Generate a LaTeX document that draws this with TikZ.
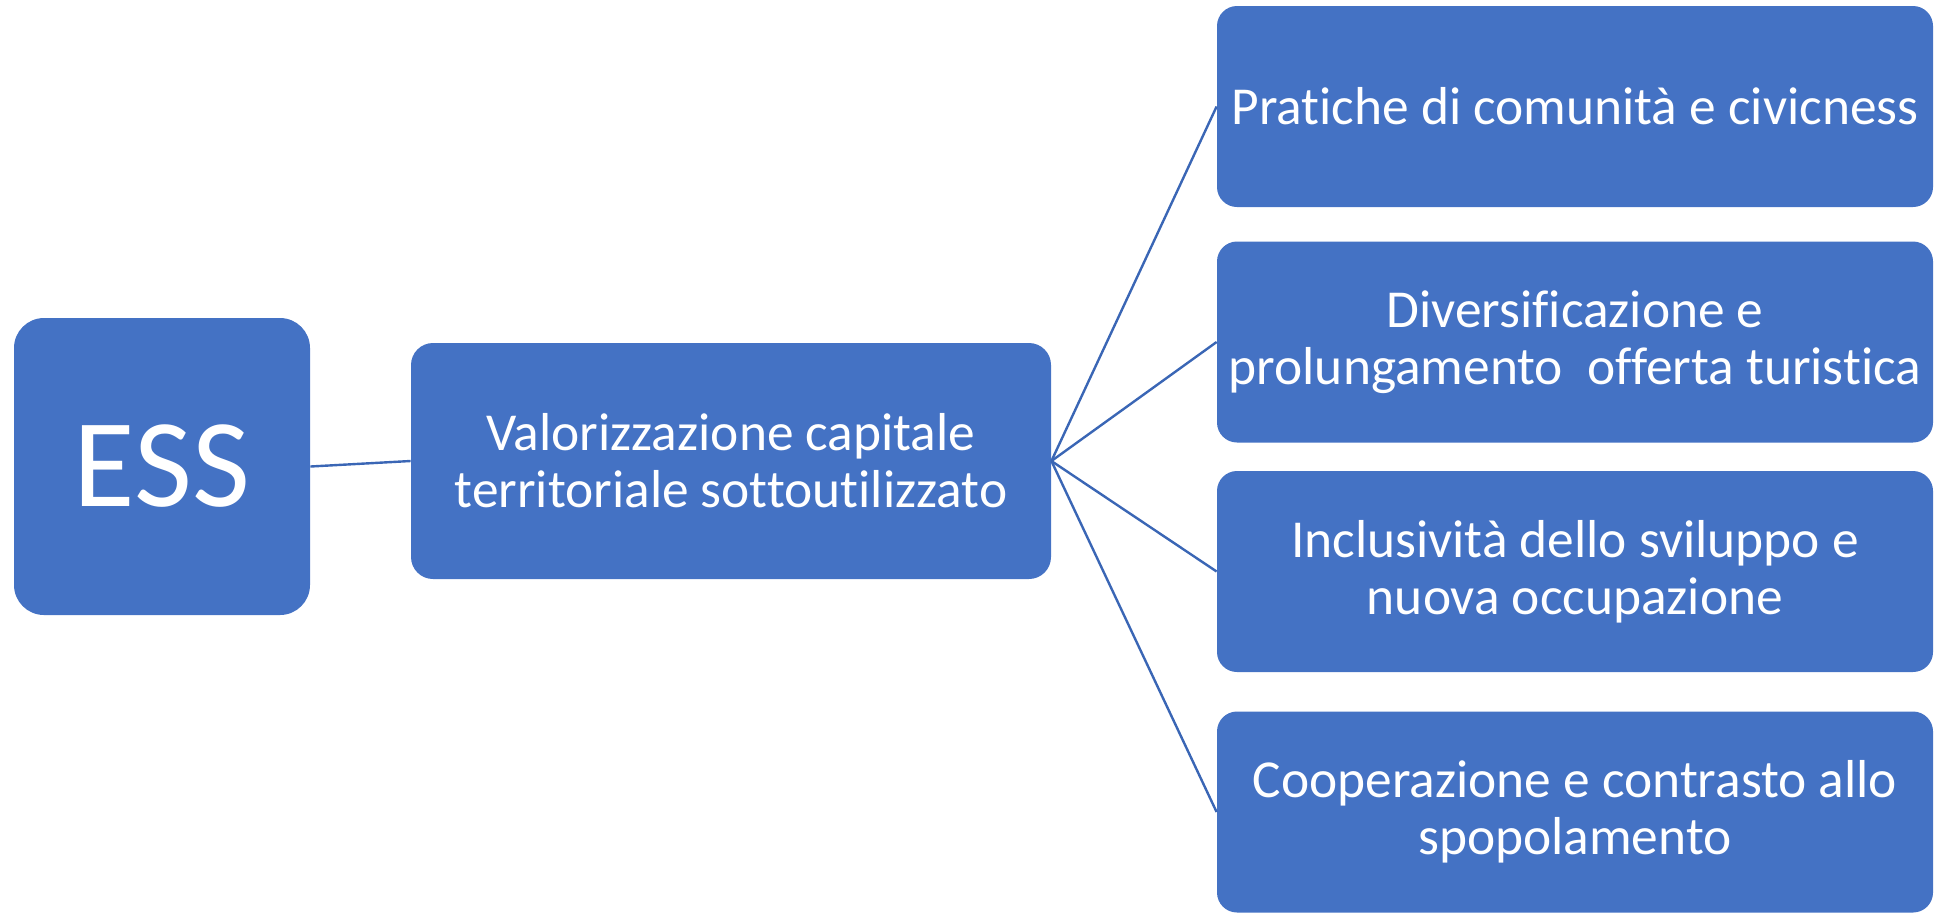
\documentclass[tikz,border=0pt]{standalone}
\usepackage{fontspec}
\setmainfont{Carlito}[Ligatures=NoCommon]
\usepackage{xcolor}
\definecolor{boxblue}{HTML}{4472C4}
\definecolor{lineblue}{HTML}{3A66B5}
\tikzset{
  block/.style    = {shape=rectangle, rounded corners=11pt,
                     fill=boxblue, text=white, align=center,
                     inner sep=0pt,
                     font=\fontsize{26.7}{28.5}\selectfont},
  root/.style     = {block, rounded corners=15pt,
                     minimum width=148pt, minimum height=148.5pt,
                     font=\fontsize{63}{70}\selectfont},
  hub/.style      = {block, minimum width=320pt, minimum height=118pt},
  goal/.style     = {block, rounded corners=10pt,
                     minimum width=358pt, minimum height=100.5pt},
  link/.style     = {draw=lineblue, line width=1.2pt}
}

\begin{document}
\begin{tikzpicture}[x=0.5pt, y=-0.5pt]
  \useasboundingbox (0,0) rectangle (1936,912);
  % left: the root and the main theme
  \node [root] (ess) at (162,466.5) {ESS};
  \node [hub]  (val) at (731,461)
    {Valorizzazione capitale\\territoriale sottoutilizzato};
  % right column: the four outcomes
  \node [goal] (civ) at (1575,106.5) {Pratiche di comunità e civicness};
  \node [goal] (tur) at (1575,342)
    {Diversificazione e\\prolungamento\ \ offerta turistica};
  \node [goal] (occ) at (1575,571.5)
    {Inclusività dello sviluppo e\\nuova occupazione};
  \node [goal] (pop) at (1575,812)
    {Cooperazione e contrasto allo\\spopolamento};
  % connectors
  \draw [link] (ess.east) -- (val.west);
  \draw [link] (val.east) -- (civ.west);
  \draw [link] (val.east) -- (tur.west);
  \draw [link] (val.east) -- (occ.west);
  \draw [link] (val.east) -- (pop.west);
\end{tikzpicture}
\end{document}
